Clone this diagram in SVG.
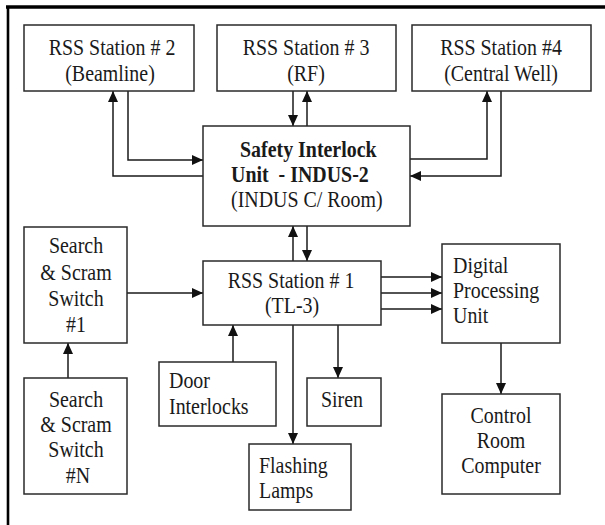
<svg xmlns="http://www.w3.org/2000/svg" width="605" height="525" viewBox="0 0 605 525">
<style>
.box{fill:#fff;stroke:#2a2a2a;stroke-width:1.5}
.ln{fill:none;stroke:#1a1a1a;stroke-width:1.5;marker-end:url(#ah)}
text{font-family:'Liberation Serif',serif;font-size:24px;fill:#1a1a1a}
.c{text-anchor:middle}
.b{font-weight:bold}
</style>
<defs>
<marker id="ah" markerUnits="userSpaceOnUse" markerWidth="12" markerHeight="11" refX="11" refY="5" orient="auto">
<path d="M0,0 L11,5 L0,10 z" fill="#111"/>
</marker>
</defs>
<rect width="605" height="525" fill="#fff"/>
<g id="frame">
<line x1="6" y1="7" x2="605" y2="7" stroke="#000" stroke-width="3.5"/>
<line x1="8" y1="6" x2="8" y2="525" stroke="#000" stroke-width="2.6"/>
</g>
<g id="connectors">
<path class="ln" d="M203,176 H113 V91"/>
<path class="ln" d="M128,91 V160 H203"/>
<path class="ln" d="M293,91 V126"/>
<path class="ln" d="M307,126 V91"/>
<path class="ln" d="M410,159 H487 V91"/>
<path class="ln" d="M501,91 V176 H410"/>
<path class="ln" d="M293,261 V226"/>
<path class="ln" d="M307,226 V261"/>
<path class="ln" d="M127,293 H203"/>
<path class="ln" d="M68,378 V343"/>
<path class="ln" d="M381,277 H442"/>
<path class="ln" d="M381,293 H442"/>
<path class="ln" d="M381,309 H442"/>
<path class="ln" d="M233,362 V325"/>
<path class="ln" d="M293,325 V444"/>
<path class="ln" d="M338,325 V378"/>
<path class="ln" d="M501,343 V394"/>
</g>
<g id="rss2">
<rect class="box" x="24" y="25" width="170" height="66"/>
<text class="c" transform="translate(112,55) scale(0.83,1)">RSS Station # 2</text>
<text class="c" transform="translate(110,81) scale(0.83,1)">(Beamline)</text>
</g>
<g id="rss3">
<rect class="box" x="217" y="25" width="179" height="66"/>
<text class="c" transform="translate(306,55) scale(0.83,1)">RSS Station # 3</text>
<text class="c" transform="translate(306,81) scale(0.83,1)">(RF)</text>
</g>
<g id="rss4">
<rect class="box" x="412" y="25" width="179" height="66"/>
<text class="c" transform="translate(501,55) scale(0.83,1)">RSS Station #4</text>
<text class="c" transform="translate(501,81) scale(0.83,1)">(Central Well)</text>
</g>
<g id="siu">
<rect class="box" x="203" y="126" width="207" height="100"/>
<text class="b" transform="translate(240,157) scale(0.83,1)">Safety Interlock</text>
<text class="b" transform="translate(231,182) scale(0.83,1)">Unit <tspan dx="6">- INDUS-2</tspan></text>
<text transform="translate(231,207) scale(0.83,1)">(INDUS C/ Room)</text>
</g>
<g id="ss1">
<rect class="box" x="24" y="227" width="103" height="116"/>
<text class="c" transform="translate(76,253) scale(0.83,1)">Search</text>
<text class="c" transform="translate(76,280) scale(0.83,1)">&amp; Scram</text>
<text class="c" transform="translate(76,306) scale(0.83,1)">Switch</text>
<text class="c" transform="translate(76,332) scale(0.83,1)">#1</text>
</g>
<g id="ssn">
<rect class="box" x="24" y="378" width="103" height="116"/>
<text class="c" transform="translate(76,407) scale(0.83,1)">Search</text>
<text class="c" transform="translate(76,432) scale(0.83,1)">&amp; Scram</text>
<text class="c" transform="translate(76,457) scale(0.83,1)">Switch</text>
<text class="c" transform="translate(78,483) scale(0.83,1)">#N</text>
</g>
<g id="rss1">
<rect class="box" x="203" y="261" width="178" height="64"/>
<text class="c" transform="translate(291,288) scale(0.83,1)">RSS Station # 1</text>
<text class="c" transform="translate(292,313) scale(0.83,1)">(TL-3)</text>
</g>
<g id="dpu">
<rect class="box" x="442" y="244" width="118" height="99"/>
<text transform="translate(453,273) scale(0.83,1)">Digital</text>
<text transform="translate(453,298) scale(0.83,1)">Processing</text>
<text transform="translate(453,323) scale(0.83,1)">Unit</text>
</g>
<g id="door">
<rect class="box" x="159" y="362" width="117" height="64"/>
<text transform="translate(169,388) scale(0.83,1)">Door</text>
<text transform="translate(169,414) scale(0.83,1)">Interlocks</text>
</g>
<g id="siren">
<rect class="box" x="307" y="378" width="74" height="48"/>
<text class="c" transform="translate(342,407) scale(0.83,1)">Siren</text>
</g>
<g id="flash">
<rect class="box" x="249" y="444" width="102" height="66"/>
<text transform="translate(259,473) scale(0.83,1)">Flashing</text>
<text transform="translate(259,498) scale(0.83,1)">Lamps</text>
</g>
<g id="crc">
<rect class="box" x="442" y="394" width="118" height="100"/>
<text class="c" transform="translate(501,423) scale(0.83,1)">Control</text>
<text class="c" transform="translate(501,448) scale(0.83,1)">Room</text>
<text class="c" transform="translate(501,473) scale(0.83,1)">Computer</text>
</g>
</svg>
